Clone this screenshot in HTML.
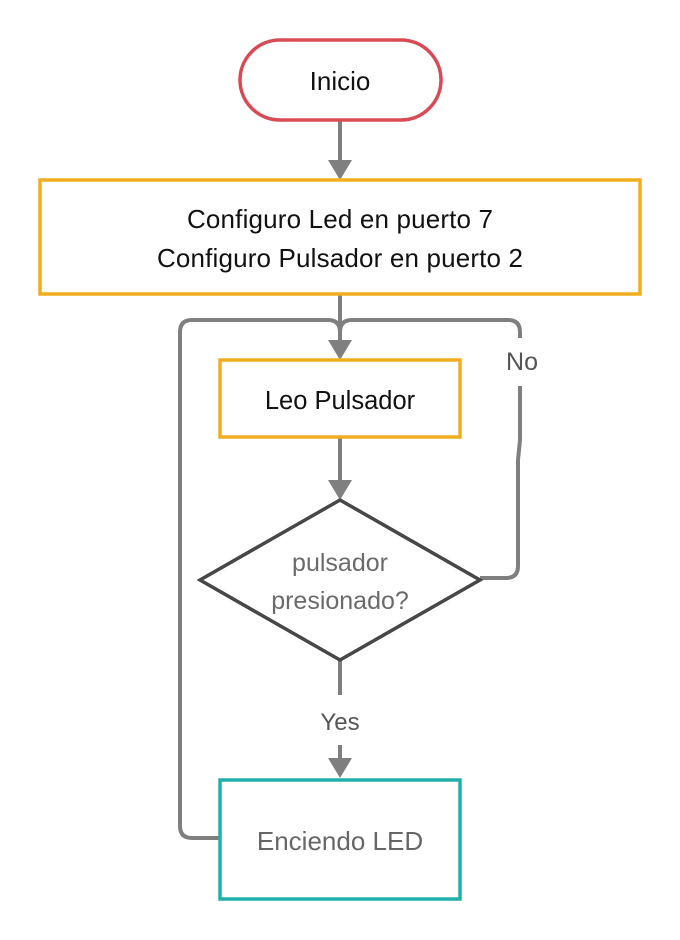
<!DOCTYPE html>
<html><head><meta charset="utf-8"><style>
html,body{margin:0;padding:0;background:#fff;}
svg{display:block;}
text{font-family:"Liberation Sans",sans-serif;text-anchor:middle;}
</style></head><body>
<svg width="680" height="940" viewBox="0 0 680 940" xmlns="http://www.w3.org/2000/svg">
<rect width="680" height="940" fill="#fff"/>
<g fill="none" stroke="#7f7f7f" stroke-width="4">
<line x1="340" y1="120" x2="340" y2="162"/>
<line x1="340" y1="294" x2="340" y2="342"/>
<path d="M220 838 H192 Q180 838 180 826 V332 Q180 320 192 320 H328 Q340 320 340 332"/>
<path d="M340 332 Q340 320 352 320 H508 Q520 320 520 332 V338"/>
<path d="M520 386 V440 L518 460 V566 Q518 578 506 578 H480"/>
<line x1="340" y1="437" x2="340" y2="482"/>
<line x1="340" y1="660" x2="340" y2="695"/>
<line x1="340" y1="745" x2="340" y2="760"/>
</g>
<g fill="#7f7f7f">
<polygon points="328,160 352,160 340,180"/>
<polygon points="328,340 352,340 340,360"/>
<polygon points="328,480 352,480 340,500"/>
<polygon points="328,758 352,758 340,778"/>
</g>
<rect x="240" y="40" width="201" height="80" rx="40" fill="#fff" stroke="#d94a55" stroke-width="3.5"/>
<rect x="40" y="180" width="600" height="114" fill="#fff" stroke="#f0ad1e" stroke-width="3.5"/>
<rect x="220" y="360" width="240" height="77" fill="#fff" stroke="#f0ad1e" stroke-width="3.5"/>
<polygon points="340,500 480,580 340,660 200,580" fill="#fff" stroke="#474747" stroke-width="3.5"/>
<rect x="220" y="780" width="240" height="119" fill="#fff" stroke="#21b0ab" stroke-width="3.5"/>
<text x="340" y="90" font-size="26" fill="#111">Inicio</text>
<text x="340" y="228" font-size="26" fill="#111" textLength="306">Configuro Led en puerto 7</text>
<text x="340" y="267" font-size="26" fill="#111" textLength="366">Configuro Pulsador en puerto 2</text>
<text x="340" y="409" font-size="25.5" fill="#111">Leo Pulsador</text>
<text x="340" y="571" font-size="25" fill="#6a6a6a">pulsador</text>
<text x="340" y="609" font-size="25" fill="#6a6a6a">presionado?</text>
<text x="522" y="370" font-size="25" fill="#555">No</text>
<text x="340" y="730" font-size="24" fill="#555">Yes</text>
<text x="340" y="850" font-size="26" fill="#666">Enciendo LED</text>
</svg>
</body></html>
